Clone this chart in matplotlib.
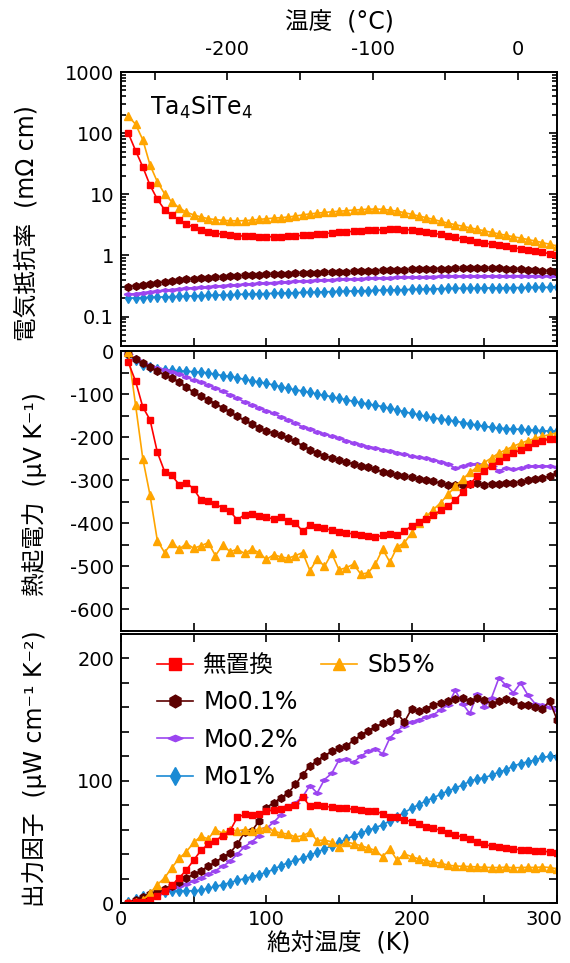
import matplotlib
matplotlib.use('Agg')
import matplotlib.pyplot as plt
from matplotlib.ticker import (MultipleLocator, FixedLocator, FuncFormatter,
                               LogLocator, NullFormatter)
from matplotlib.lines import Line2D
from matplotlib.transforms import ScaledTranslation

plt.rcParams['font.family'] = ['DejaVu Sans', 'Noto Sans CJK JP']
plt.rcParams['axes.unicode_minus'] = False

# ---------------- data ----------------
labels = ['無置換', 'Sb5%', 'Mo0.1%', 'Mo0.2%', 'Mo1%']

T = [5, 10, 15, 20, 25, 30, 35, 40, 45, 50,
     55, 60, 65, 70, 75, 80, 85, 90, 95, 100,
     105, 110, 115, 120, 125, 130, 135, 140, 145, 150,
     155, 160, 165, 170, 175, 180, 185, 190, 195, 200,
     205, 210, 215, 220, 225, 230, 235, 240, 245, 250,
     255, 260, 265, 270, 275, 280, 285, 290, 295, 300]

# resistivity (mOhm cm)
rho_pristine = [100, 52, 28, 14, 8.3, 5.6, 4.5, 3.8, 3.25, 2.9,
                2.6, 2.42, 2.3, 2.22, 2.15, 2.1, 2.07, 2.04, 2.02, 2.02,
                2.02, 2.03, 2.04, 2.08, 2.13, 2.18, 2.23, 2.28, 2.33, 2.38,
                2.43, 2.48, 2.52, 2.56, 2.6, 2.63, 2.66, 2.67, 2.65, 2.6,
                2.52, 2.42, 2.3, 2.2, 2.08, 1.97, 1.87, 1.77, 1.68, 1.6,
                1.52, 1.46, 1.4, 1.34, 1.28, 1.22, 1.17, 1.12, 1.07, 1.03]
rho_sb5 = [190, 140, 78, 30, 16, 10.2, 7.5, 6.0, 5.1, 4.6,
           4.25, 4.0, 3.85, 3.75, 3.7, 3.68, 3.7, 3.78, 3.88, 3.98,
           4.07, 4.15, 4.25, 4.4, 4.6, 4.78, 4.92, 5.05, 5.17, 5.28,
           5.4, 5.52, 5.62, 5.7, 5.73, 5.68, 5.5, 5.3, 5.0, 4.7,
           4.4, 4.15, 3.88, 3.6, 3.38, 3.18, 3.0, 2.83, 2.68, 2.53,
           2.38, 2.25, 2.13, 2.02, 1.92, 1.82, 1.72, 1.62, 1.52, 1.43]
rho_mo01 = [0.31, 0.32, 0.33, 0.34, 0.355, 0.37, 0.38, 0.395, 0.405, 0.415,
            0.425, 0.435, 0.44, 0.45, 0.455, 0.465, 0.47, 0.478, 0.485, 0.49,
            0.495, 0.5, 0.505, 0.51, 0.515, 0.52, 0.525, 0.53, 0.535, 0.54,
            0.545, 0.55, 0.555, 0.56, 0.565, 0.57, 0.575, 0.58, 0.585, 0.59,
            0.595, 0.6, 0.603, 0.607, 0.61, 0.613, 0.615, 0.617, 0.618, 0.618,
            0.617, 0.615, 0.61, 0.603, 0.595, 0.585, 0.573, 0.562, 0.552, 0.54]
rho_mo02 = [0.23, 0.238, 0.246, 0.254, 0.262, 0.27, 0.277, 0.284, 0.291, 0.297,
            0.303, 0.309, 0.315, 0.321, 0.327, 0.333, 0.338, 0.343, 0.348, 0.355,
            0.36, 0.366, 0.371, 0.377, 0.382, 0.388, 0.393, 0.398, 0.402, 0.406,
            0.41, 0.414, 0.418, 0.422, 0.426, 0.43, 0.434, 0.438, 0.441, 0.444,
            0.447, 0.45, 0.452, 0.454, 0.456, 0.458, 0.459, 0.46, 0.461, 0.462,
            0.463, 0.463, 0.464, 0.464, 0.465, 0.465, 0.465, 0.465, 0.465, 0.465]
rho_mo1 = [0.200, 0.202, 0.204, 0.206, 0.208, 0.210, 0.212, 0.214, 0.216, 0.218,
           0.220, 0.222, 0.224, 0.226, 0.228, 0.230, 0.232, 0.234, 0.236, 0.238,
           0.240, 0.242, 0.244, 0.246, 0.248, 0.250, 0.252, 0.254, 0.256, 0.258,
           0.260, 0.262, 0.264, 0.266, 0.268, 0.270, 0.272, 0.274, 0.276, 0.278,
           0.280, 0.282, 0.284, 0.286, 0.288, 0.289, 0.290, 0.291, 0.292, 0.293,
           0.294, 0.295, 0.296, 0.297, 0.298, 0.299, 0.300, 0.300, 0.301, 0.302]

# Seebeck coefficient (uV/K)
S_pristine = [-26, -70, -130, -160, -235, -280, -289, -310, -306, -320,
              -346, -348, -356, -364, -372, -392, -380, -378, -382, -386,
              -390, -385, -395, -400, -418, -404, -408, -412, -416, -420,
              -422, -425, -427, -429, -432, -428, -425, -426, -418, -406,
              -397, -390, -380, -370, -360, -346, -328, -309, -291, -278,
              -266, -256, -246, -237, -230, -222, -214, -208, -204, -204]
S_sb5 = [-2, -125, -250, -335, -440, -468, -445, -460, -447, -458,
         -452, -445, -475, -450, -466, -460, -470, -460, -468, -484,
         -473, -478, -481, -475, -468, -510, -482, -500, -470, -508,
         -503, -495, -518, -515, -495, -460, -490, -455, -445, -422,
         -400, -384, -368, -352, -333, -314, -298, -282, -270, -259,
         -248, -237, -229, -221, -214, -208, -203, -198, -194, -190]
S_mo01 = [-8, -19, -29, -38, -47, -55, -63, -72, -84, -96,
          -105, -114, -122, -132, -142, -152, -161, -170, -178, -185,
          -191, -196, -201, -210, -220, -229, -237, -243, -248, -254,
          -258, -262, -266, -270, -275, -280, -284, -288, -291, -293,
          -296, -299, -302, -307, -310, -311, -310, -308, -307, -310,
          -309, -308, -306, -306, -304, -300, -298, -295, -290, -283]
S_mo02 = [-8, -18, -28, -34, -39, -44, -49, -54, -61, -68,
          -73, -79, -86, -94, -102, -110, -118, -126, -132, -139,
          -145, -153, -160, -168, -176, -182, -188, -193, -198, -203,
          -208, -213, -218, -222, -225, -229, -232, -236, -240, -244,
          -247, -249, -253, -257, -262, -272, -268, -262, -263, -265,
          -268, -278, -272, -274, -272, -268, -267, -266, -268, -270]
S_mo1 = [-10, -22, -32, -37, -41, -43, -45, -46, -47, -48,
         -49, -51, -54, -57, -59, -62, -66, -69, -72, -75,
         -79, -83, -87, -90, -93, -96, -100, -103, -106, -110,
         -113, -117, -120, -123, -126, -129, -133, -137, -141, -145,
         -148, -152, -155, -158, -160, -163, -166, -169, -172, -175,
         -177, -179, -180, -181, -182, -183, -184, -185, -186, -186]

# power factor (uW cm^-1 K^-2)
PF_pristine = [0.3, 0.6, 1.0, 2.5, 5.5, 10, 14.5, 20.5, 27, 35,
               43, 48, 51, 55, 59, 70, 72.5, 72, 73, 75,
               76, 77, 78.5, 80, 87, 79, 80.5, 79, 78.5, 78,
               77.5, 76.5, 76, 75.5, 75, 73, 70.5, 70.5, 68, 66.5,
               64.5, 62.5, 61, 59.5, 57.5, 55.5, 54, 52, 50, 48,
               46.5, 45.5, 44.8, 44.2, 43.6, 43, 42.7, 42.4, 41.8, 41]
PF_sb5 = [0.3, 1, 2.5, 8, 15, 20.5, 29, 36.5, 42, 49.5,
          54.5, 52.5, 60, 57, 60, 59, 60, 59, 60.5, 61.5,
          59, 57, 56.5, 54, 55, 58, 51, 51.5, 50, 46,
          50, 48.5, 47, 45, 43, 38, 44, 35, 40, 38,
          36, 34.5, 33.5, 32.5, 31, 30.2, 30, 29.8, 29.5, 29.2,
          29, 29, 29.3, 28.8, 29, 29.2, 29, 29.5, 29, 28]
PF_mo01 = [0.3, 2.5, 5, 7.5, 9.5, 11.5, 14, 17, 20.5, 23.5,
           26.5, 30, 33.5, 37.5, 41, 48, 58, 59, 67, 78,
           82, 86, 90, 97, 105, 112, 116.5, 120.5, 124, 126.5,
           128.5, 133, 137, 141, 144, 147, 148.5, 155, 148, 159,
           157, 159, 162, 163.5, 165, 167, 167.5, 165, 168, 166,
           163, 165, 167, 165, 162, 162, 160, 159, 165, 150]
PF_mo02 = [0.3, 1.5, 2.5, 4.5, 7.5, 10.5, 12.5, 14, 15.5, 18,
           20.5, 23.5, 26.5, 30, 34, 40, 46, 50, 55, 61,
           66, 72, 79, 82, 87, 96, 90, 101, 106, 117,
           117.5, 115, 120, 124, 126, 122, 135, 141, 145, 148,
           150, 152, 154, 158, 162, 174, 163, 155, 171, 160,
           168, 184, 178, 172, 180, 170, 163, 162, 160, 158]
PF_mo1 = [0.5, 3, 6, 7.5, 8.5, 9, 9.5, 10, 10, 10,
          10.5, 12, 13.5, 15, 16.5, 18.5, 20, 21.5, 23, 25,
          27.5, 30.5, 33, 35, 36.5, 39, 41.5, 44, 47, 49.5,
          52, 55, 57, 59.5, 61.5, 64, 67, 70.5, 74, 77.5,
          80.5, 83.5, 86, 89, 91.5, 94, 96.5, 99.5, 101.5, 102.5,
          104.5, 107, 109, 112, 114, 115.5, 117, 119, 120, 119.5]

rho = {'無置換': rho_pristine, 'Sb5%': rho_sb5, 'Mo0.1%': rho_mo01, 'Mo0.2%': rho_mo02, 'Mo1%': rho_mo1}
S = {'無置換': S_pristine, 'Sb5%': S_sb5, 'Mo0.1%': S_mo01, 'Mo0.2%': S_mo02, 'Mo1%': S_mo1}
PF = {'無置換': PF_pristine, 'Sb5%': PF_sb5, 'Mo0.1%': PF_mo01, 'Mo0.2%': PF_mo02, 'Mo1%': PF_mo1}

celsius_ticks = [-250, -200, -150, -100, -50, 0]
celsius_labels = {-200: '-200', -100: '-100', 0: '0'}

# ---------------- styles ----------------
flat_diamond = [(-1, 0), (0, 0.42), (1, 0), (0, -0.42), (-1, 0)]
style = {
    '無置換': dict(color='#FF0000', marker='s', ms=4.8),
    'Sb5%': dict(color='#FFA500', marker='^', ms=5.2),
    'Mo0.1%': dict(color='#5C0000', marker='h', ms=5.4),
    'Mo0.2%': dict(color='#9B45F0', marker=flat_diamond, ms=6.4),
    'Mo1%': dict(color='#1A8AD4', marker='d', ms=5.2),
}
draw_order = ['Mo1%', 'Mo0.2%', 'Mo0.1%', 'Sb5%', '無置換']

fig = plt.figure(figsize=(5.7, 9.63), dpi=100)
W, H = 570.0, 963.0
L, R = 121 / W, 557 / W


def rect(top_px, bot_px):
    return [L, 1 - bot_px / H, R - L, (bot_px - top_px) / H]


ax1 = fig.add_axes(rect(72, 346))
ax2 = fig.add_axes(rect(351, 631))
ax3 = fig.add_axes(rect(634, 903))

handles = {}
for ax, data in ((ax1, rho), (ax2, S), (ax3, PF)):
    for name in draw_order:
        st = style[name]
        ln, = ax.plot(T, data[name], color=st['color'], marker=st['marker'],
                      ms=st['ms'], mec=st['color'], mfc=st['color'], lw=1.2,
                      label=name)
        if ax is ax3:
            handles[name] = ln

for ax in (ax1, ax2, ax3):
    ax.set_xlim(0, 300)
    for sp in ax.spines.values():
        sp.set_linewidth(1.4)
    ax.tick_params(which='both', direction='in', right=True, width=1.2,
                   labelsize=14, pad=5)
    ax.tick_params(which='major', length=6)
    ax.tick_params(which='minor', length=6)
    ax.xaxis.set_major_locator(MultipleLocator(100))
    ax.xaxis.set_minor_locator(MultipleLocator(50))

# top panel
ax1.set_yscale('log')
ax1.set_ylim(0.033, 1000)
ax1.yaxis.set_major_locator(LogLocator(base=10, numticks=10))
ax1.yaxis.set_minor_locator(LogLocator(base=10, subs=range(2, 10), numticks=100))
ax1.yaxis.set_major_formatter(FuncFormatter(lambda v, p: '%g' % v))
ax1.yaxis.set_minor_formatter(NullFormatter())
ax1.tick_params(axis='y', which='minor', length=3.5)
ax1.tick_params(axis='x', which='both', top=False, labelbottom=False)
ax1.set_ylabel('電気抵抗率  (mΩ cm)', fontsize=17)
ax1.yaxis.set_label_coords(-0.19, 0.45)
ax1.text(0.066, 0.87, 'Ta$_4$SiTe$_4$', transform=ax1.transAxes,
         fontsize=17, va='center', ha='left')

sec = ax1.secondary_xaxis('top', functions=(lambda k: k - 273.15, lambda c: c + 273.15))
sec.xaxis.set_major_locator(FixedLocator(celsius_ticks))
sec.xaxis.set_major_formatter(FuncFormatter(lambda v, p: celsius_labels.get(int(round(v)), '')))
sec.xaxis.set_minor_locator(FixedLocator([]))
sec.tick_params(which='both', direction='in', length=6, width=1.2, labelsize=14, pad=9)
sec.spines['top'].set_linewidth(1.4)
sec.set_xlabel('温度  (°C)', fontsize=17, labelpad=8)

# middle panel
ax2.set_ylim(-650, 0)
ax2.yaxis.set_major_locator(MultipleLocator(100))
ax2.yaxis.set_minor_locator(MultipleLocator(50))
ax2.tick_params(axis='x', which='both', top=True, labelbottom=False)
ax2.set_ylabel('熱起電力  (μV K⁻¹)', fontsize=17)
ax2.yaxis.set_label_coords(-0.17, 0.49)

# bottom panel
ax3.set_ylim(0, 220)
ax3.yaxis.set_major_locator(MultipleLocator(100))
ax3.yaxis.set_minor_locator(MultipleLocator(20))
ax3.tick_params(axis='x', which='both', top=True)
ax3.set_ylabel('出力因子  (μW cm⁻¹ K⁻²)', fontsize=17)
ax3.yaxis.set_label_coords(-0.17, 0.5)
ax3.set_xlabel('絶対温度  (K)', fontsize=17, labelpad=2)
ax3.xaxis.set_major_formatter(FuncFormatter(lambda v, p: '%d' % v))

blank = Line2D([], [], linestyle='none', marker='none')
leg_handles = [handles['無置換'], handles['Mo0.1%'], handles['Mo0.2%'], handles['Mo1%'],
               handles['Sb5%'], blank, blank, blank]
leg_labels = ['無置換', 'Mo0.1%', 'Mo0.2%', 'Mo1%', 'Sb5%', '', '', '']
ax3.legend(leg_handles, leg_labels, ncol=2, loc='upper left',
           bbox_to_anchor=(0.083, 0.93), frameon=False, fontsize=17,
           markerscale=1.7, handlelength=1.5, handletextpad=0.45,
           columnspacing=1.0, labelspacing=0.57, borderpad=0, borderaxespad=0)

fig.canvas.draw()
for tk in ax3.xaxis.get_major_ticks():
    if abs(tk.get_loc() - 300) < 1e-6:
        tk.label1.set_transform(tk.label1.get_transform() +
                                ScaledTranslation(-0.13, 0, fig.dpi_scale_trans))

fig.savefig('out.png', dpi=100)
